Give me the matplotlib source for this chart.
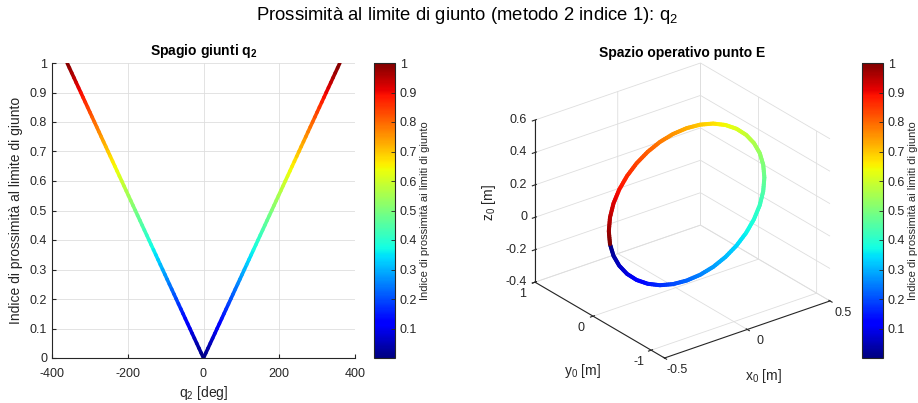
import numpy as np
import matplotlib
matplotlib.use('Agg')
import matplotlib.pyplot as plt
from matplotlib.collections import LineCollection
from mpl_toolkits.mplot3d import proj3d
from mpl_toolkits.mplot3d.art3d import Line3DCollection

plt.rcParams['font.family'] = ['Liberation Sans', 'DejaVu Sans']
plt.rcParams['mathtext.fontset'] = 'custom'
plt.rcParams['mathtext.rm'] = 'Liberation Sans'
plt.rcParams['mathtext.it'] = 'Liberation Sans:italic'
plt.rcParams['mathtext.bf'] = 'Liberation Sans:bold'
plt.rcParams['axes.unicode_minus'] = False
plt.rcParams['grid.color'] = '#dedede'
plt.rcParams['grid.linewidth'] = 0.6

DARK = (0.15, 0.15, 0.15)

# --- dati: spazio giunti (q2 [deg] -> indice)
q2 = [-360, 0, 360]
idx_q2 = [1.0, 0.0, 1.0]

# --- dati: traiettoria del punto E (q2 da 0 a 360 deg, passo 10)
idx_E = [0.000, 0.028, 0.056, 0.083, 0.111, 0.139, 0.167, 0.194, 0.222, 0.250,
         0.278, 0.306, 0.333, 0.361, 0.389, 0.417, 0.444, 0.472, 0.500, 0.528,
         0.556, 0.583, 0.611, 0.639, 0.667, 0.694, 0.722, 0.750, 0.778, 0.806,
         0.833, 0.861, 0.889, 0.917, 0.944, 0.972, 1.000]
x_E = [-0.433, -0.412, -0.377, -0.330, -0.272, -0.205, -0.131, -0.052, 0.030, 0.112,
       0.191, 0.265, 0.332, 0.390, 0.437, 0.472, 0.493, 0.500, 0.493, 0.472,
       0.437, 0.390, 0.332, 0.265, 0.191, 0.112, 0.030, -0.052, -0.131, -0.205,
       -0.272, -0.330, -0.377, -0.412, -0.433, -0.440, -0.433]
y_E = [-0.1] * 37
z_E = [0.042, -0.037, -0.111, -0.178, -0.236, -0.283, -0.318, -0.339, -0.346, -0.339,
       -0.318, -0.283, -0.236, -0.178, -0.111, -0.037, 0.042, 0.124, 0.206, 0.285,
       0.359, 0.426, 0.484, 0.531, 0.566, 0.587, 0.594, 0.587, 0.566, 0.531,
       0.484, 0.426, 0.359, 0.285, 0.206, 0.124, 0.042]

x_ticks3 = [-0.5, 0, 0.5]
y_ticks3 = [-1, 0, 1]
z_ticks3 = [-0.4, -0.2, 0, 0.2, 0.4, 0.6]
cb_ticks = [0.1, 0.2, 0.3, 0.4, 0.5, 0.6, 0.7, 0.8, 0.9, 1.0]
cb_label = 'Indice di prossimità ai limiti di giunto'


def fine(vals, n=20):
    # spezza ogni tratto in n pezzi, solo per sfumare il colore
    vals = np.asarray(vals, float)
    t = np.linspace(0, 1, n, endpoint=False)
    out = [vals[i] + (vals[i + 1] - vals[i]) * t for i in range(len(vals) - 1)]
    return np.concatenate(out + [vals[-1:]])


def lab(v):
    return '%g' % v


cmap = plt.get_cmap('jet')
norm = plt.Normalize(0, 1)

fig = plt.figure(figsize=(9.18, 4.03), dpi=100)
W, H = 918., 403.

fig.text(467 / W, 1 - 15 / H, 'Prossimità al limite di giunto (metodo 2 indice 1): q$_2$',
         ha='center', va='center', fontsize=13.3)

# ---------------- 3D
XL, YL, ZL = (-0.5, 0.5), (-1.23, 1), (-0.4, 0.6)
ax3 = fig.add_axes([0.52, 0.1, 0.4, 0.8], projection='3d')
ax3.set_proj_type('ortho')
ax3.view_init(elev=26.7, azim=-127.5)
ax3.set_box_aspect((1, 1.02, 0.87))
ax3.set_xlim(*XL)
ax3.set_ylim(*YL)
ax3.set_zlim(*ZL)
ax3.set_xticks(x_ticks3)
ax3.set_yticks(y_ticks3)
ax3.set_zticks(z_ticks3)
ax3.set_xticklabels([])
ax3.set_yticklabels([])
ax3.set_zticklabels([])
for a in (ax3.xaxis, ax3.yaxis, ax3.zaxis):
    a.set_pane_color((1, 1, 1, 0))
    a.pane.set_edgecolor((1, 1, 1, 0))
    a.line.set_color(DARK)
    a.line.set_linewidth(0.8)
ax3.tick_params(colors=DARK)

xf, yf, zf, cf = fine(x_E, 6), fine(y_E, 6), fine(z_E, 6), fine(idx_E, 6)
pts = np.column_stack([xf, yf, zf])
segs = np.stack([pts[:-1], pts[1:]], axis=1)
lc3 = Line3DCollection(segs, colors=cmap(norm((cf[:-1] + cf[1:]) / 2)), linewidths=2.9,
                       capstyle='round')
ax3.add_collection3d(lc3)


def to_px(x, y, z):
    px, py, _ = proj3d.proj_transform(np.atleast_1d(np.asarray(x, float)),
                                      np.atleast_1d(np.asarray(y, float)),
                                      np.atleast_1d(np.asarray(z, float)), ax3.get_proj())
    return ax3.transData.transform(np.column_stack([px, py]))


# porta la scatola 3D nella posizione del riferimento (pixel)
tgt_cx, tgt_cy, tgt_h = 682.5, H - 210.5, 295.0
corn = np.array([[a, b, c] for a in XL for b in YL for c in ZL])
for _ in range(4):
    fig.canvas.draw()
    d = to_px(corn[:, 0], corn[:, 1], corn[:, 2])
    s = tgt_h / np.ptp(d[:, 1])
    pc = np.array([(d[:, 0].max() + d[:, 0].min()) / 2, (d[:, 1].max() + d[:, 1].min()) / 2])
    bb = ax3.get_position(original=True)
    ac = np.array([(bb.x0 + bb.width / 2) * W, (bb.y0 + bb.height / 2) * H])
    nc = np.array([tgt_cx, tgt_cy]) - (pc - ac) * s
    nw, nh = bb.width * s, bb.height * s
    ax3.set_position([nc[0] / W - nw / 2, nc[1] / H - nh / 2, nw, nh])
fig.canvas.draw()

# etichette dei tick 3D, a fianco degli assi
for v, (px, py) in zip(x_ticks3, to_px(x_ticks3, [YL[0]] * 3, [ZL[0]] * 3)):
    fig.text((px + 13) / W, (py - 12) / H, lab(v), ha='center', va='center',
             fontsize=9, color=DARK)
for v, (px, py) in zip(y_ticks3, to_px([XL[0]] * 3, y_ticks3, [ZL[0]] * 3)):
    fig.text((px - 12) / W, (py - 12) / H, lab(v), ha='center', va='center',
             fontsize=9, color=DARK)
for v, (px, py) in zip(z_ticks3, to_px([XL[0]] * 6, [YL[1]] * 6, z_ticks3)):
    fig.text((px - 8) / W, py / H, lab(v), ha='right', va='center',
             fontsize=9, color=DARK)

fig.text(682 / W, 1 - 53 / H, 'Spazio operativo punto E', ha='center', va='center',
         fontsize=10, fontweight='bold')
fig.text(763 / W, 1 - 376 / H, 'x$_0$ [m]', ha='center', va='center', fontsize=10, color=DARK)
fig.text(582 / W, 1 - 371 / H, 'y$_0$ [m]', ha='center', va='center', fontsize=10, color=DARK)
fig.text(489 / W, 1 - 203 / H, 'z$_0$ [m]', ha='center', va='center', fontsize=10, color=DARK,
         rotation=90)

# ---------------- 2D
ax = fig.add_axes([52 / W, 45 / H, 303 / W, 295 / H])
qf, vf = fine(q2, 60), fine(idx_q2, 60)
p2 = np.column_stack([qf, vf])
lc = LineCollection(np.stack([p2[:-1], p2[1:]], axis=1),
                    colors=cmap(norm((vf[:-1] + vf[1:]) / 2)), linewidths=2.6,
                    capstyle='round')
ax.add_collection(lc)
ax.set_xlim(-400, 400)
ax.set_ylim(0, 1)
ax.set_xticks([-400, -200, 0, 200, 400])
ax.set_yticks(np.arange(0, 1.01, 0.1))
ax.set_yticklabels(['0', '0.1', '0.2', '0.3', '0.4', '0.5', '0.6', '0.7', '0.8', '0.9', '1'])
ax.grid(True)
ax.set_axisbelow(True)
for s_ in ('top', 'right'):
    ax.spines[s_].set_visible(False)
for s_ in ('left', 'bottom'):
    ax.spines[s_].set_color(DARK)
    ax.spines[s_].set_linewidth(0.8)
ax.tick_params(direction='in', length=3, labelsize=9, colors=DARK, width=0.8)
ax.tick_params(axis='x', pad=7)
ax.set_xlabel('q$_2$ [deg]', fontsize=10, color=DARK, labelpad=3)
ax.set_ylabel('Indice di prossimità al limite di giunto', fontsize=10, color=DARK, labelpad=5)
ax.set_title(r'Spagio giunti q$_\mathbf{2}$', fontsize=10, fontweight='bold', pad=6)

# ---------------- colorbar
sm = plt.cm.ScalarMappable(norm=norm, cmap=cmap)
for left in (374 / W, 862 / W):
    cax = fig.add_axes([left, 45 / H, 21 / W, 295 / H])
    cb = fig.colorbar(sm, cax=cax)
    cb.set_ticks(cb_ticks)
    cb.set_ticklabels(['0.1', '0.2', '0.3', '0.4', '0.5', '0.6', '0.7', '0.8', '0.9', '1'])
    cb.outline.set_edgecolor(DARK)
    cb.outline.set_linewidth(0.8)
    cax.tick_params(direction='in', length=3, labelsize=9, colors=DARK, width=0.6)
    cb.set_label(cb_label, fontsize=8, color=DARK, labelpad=2)

fig.savefig('out.png', dpi=100)
